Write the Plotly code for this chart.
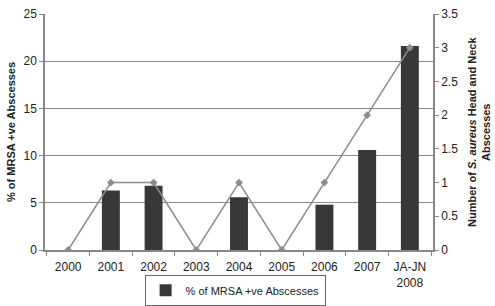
import plotly.graph_objects as go

categories = ["2000", "2001", "2002", "2003", "2004", "2005", "2006", "2007", "JA-JN<br>2008"]
mrsa_pct = [0, 6.3, 6.8, 0, 5.6, 0, 4.8, 10.6, 21.6]
abscess_count = [0, 1, 1, 0, 1, 0, 1, 2, 3]

fig = go.Figure()
fig.add_trace(go.Bar(
    x=categories, y=mrsa_pct, name="% of MRSA +ve Abscesses",
    marker=dict(color="#383838", line=dict(width=0)),
    width=0.42, yaxis="y",
))
fig.add_trace(go.Scatter(
    x=categories, y=abscess_count, name="Number of abscesses",
    mode="lines+markers", yaxis="y2", showlegend=False,
    line=dict(color="#8c8c8c", width=1.5),
    marker=dict(symbol="diamond", size=6, color="#8c8c8c"),
))

font_family = "Liberation Sans, Arial, sans-serif"
fig.update_layout(
    width=495, height=306,
    margin=dict(l=45, r=62, t=14, b=56, autoexpand=False),
    plot_bgcolor="white", paper_bgcolor="white",
    font=dict(family=font_family, size=12, color="#222"),
    xaxis=dict(
        type="category", showline=True, linecolor="#888", linewidth=1.5,
        ticks="outside", tickson="boundaries", ticklen=4, tickcolor="#888",
        tickfont=dict(size=12), showgrid=False, automargin=False,
        ticklabelstandoff=5,
    ),
    yaxis=dict(
        range=[0, 25], dtick=5, showline=True, linecolor="#888", linewidth=1.5,
        ticks="outside", ticklen=4, tickcolor="#888",
        showgrid=True, gridcolor="#8a8a8a", gridwidth=1,
        zeroline=False, automargin=False,
        tickfont=dict(size=12),
    ),
    yaxis2=dict(
        range=[0, 3.5], dtick=0.5, overlaying="y", side="right",
        showline=True, linecolor="#888", linewidth=1.5,
        ticks="outside", ticklen=4, tickcolor="#888",
        showgrid=False, zeroline=False, automargin=False,
        tickfont=dict(size=12),
    ),
    legend=dict(
        orientation="h", x=0.49, xanchor="center", y=-0.105, yanchor="top",
        bordercolor="#666", borderwidth=1, font=dict(size=11),
        itemwidth=30, tracegroupgap=0, valign="middle",
    ),
    annotations=[
        dict(text="<b>% of MRSA +ve Abscesses</b>", xref="paper", yref="paper",
             x=0, y=0.5, xshift=-34, textangle=-90, showarrow=False,
             font=dict(size=11), xanchor="center", yanchor="middle"),
        dict(text="<b>Number of <i>S. aureus</i> Head and Neck<br>Abscesses</b>",
             xref="paper", yref="paper", x=1, y=0.5, xshift=46, textangle=-90,
             showarrow=False, font=dict(size=11), xanchor="center", yanchor="middle"),
    ],
)

fig.write_html("out.html", config={"displayModeBar": False},
               post_script="document.body.style.margin='0';document.body.style.overflow='hidden';")
